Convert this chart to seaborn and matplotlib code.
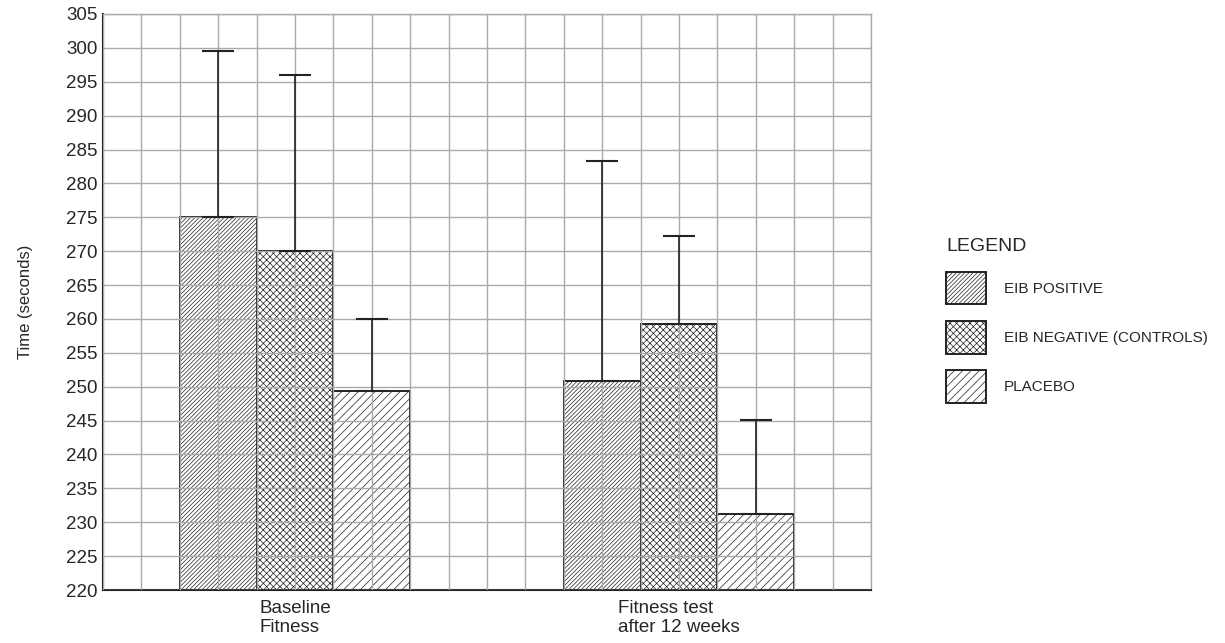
import numpy as np
import pandas as pd
import matplotlib
matplotlib.use("Agg")
import matplotlib.pyplot as plt
from matplotlib.ticker import MultipleLocator
import seaborn as sns

# data
phases = ["Baseline\nFitness", "Fitness test\nafter 12 weeks"]
groups = ["EIB POSITIVE", "EIB NEGATIVE (CONTROLS)", "PLACEBO"]
means_baseline = [275.0, 270.0, 249.3]
means_followup = [250.8, 259.2, 231.2]
tops_baseline = [299.6, 296.0, 260.0]   # upper end of error bar
tops_followup = [283.3, 272.2, 245.1]
hatches = ["////////", "xxxxx", "////"]

df = pd.DataFrame({
    "phase": [phases[0]] * 3 + [phases[1]] * 3,
    "group": groups * 2,
    "time": means_baseline + means_followup,
    "top": tops_baseline + tops_followup,
})

sns.set_style("white")
plt.rcParams["font.family"] = ["Liberation Sans", "DejaVu Sans"]
plt.rcParams["hatch.linewidth"] = 0.5

fig = plt.figure(figsize=(12.25, 6.43), dpi=100)
ax = fig.add_axes([103 / 1225, 1 - 590 / 643, (871 - 103) / 1225, (590 - 14) / 643])

sns.barplot(data=df, x="phase", y="time", hue="group", order=phases, hue_order=groups,
            palette=["white"] * 3, edgecolor="black", linewidth=1.4,
            width=0.6, gap=0, errorbar=None, legend=False, ax=ax)

bar_conts = list(ax.containers)

# hatches + upward error bars, positions from the drawn bars
for cont, h, g in zip(bar_conts, hatches, groups):
    sub = df[df.group == g].set_index("phase").loc[phases]
    for bar, top in zip(cont.patches, sub["top"]):
        bar.set_hatch(h)
        bar.set_edgecolor("#222222")
        xc = bar.get_x() + bar.get_width() / 2
        ax.errorbar(xc, bar.get_height(), yerr=[[0], [top - bar.get_height()]],
                    fmt="none", ecolor="#222222", elinewidth=1.2,
                    capsize=11.5, capthick=1.5, zorder=4)

ax.set_xlim(-0.5, 1.5)
ax.set_ylim(220, 305)
ax.set_yticks(np.arange(220, 306, 5))
ax.xaxis.set_minor_locator(MultipleLocator(0.1))
ax.set_axisbelow(False)
ax.grid(True, which="both", axis="x", color="#aaaaaa", linewidth=1.0, zorder=3)
ax.grid(True, which="major", axis="y", color="#aaaaaa", linewidth=1.0, zorder=3)

ax.tick_params(axis="x", which="both", length=0, labelsize=13.5, pad=7)
ax.tick_params(axis="y", length=0, labelsize=13.5, pad=4)
for lab in ax.get_xticklabels():
    lab.set_multialignment("left")

ax.set_xlabel("")
ax.set_ylabel("Time (seconds)", fontsize=12, labelpad=24)

for s in ["left", "bottom"]:
    ax.spines[s].set_color("#222222")
    ax.spines[s].set_linewidth(1.5)
for s in ["top", "right"]:
    ax.spines[s].set_color("#aaaaaa")
    ax.spines[s].set_linewidth(1.0)

handles = [c.patches[0] for c in bar_conts]
leg = fig.legend(handles, groups, title="LEGEND", loc="upper left",
                 bbox_to_anchor=(946 / 1225, 1 - 238 / 643), frameon=False,
                 fontsize=11, title_fontsize=14, alignment="left",
                 handlelength=2.6, handleheight=2.9, labelspacing=1.1,
                 handletextpad=1.2, borderpad=0, borderaxespad=0)

fig.savefig("out.png", dpi=100)
